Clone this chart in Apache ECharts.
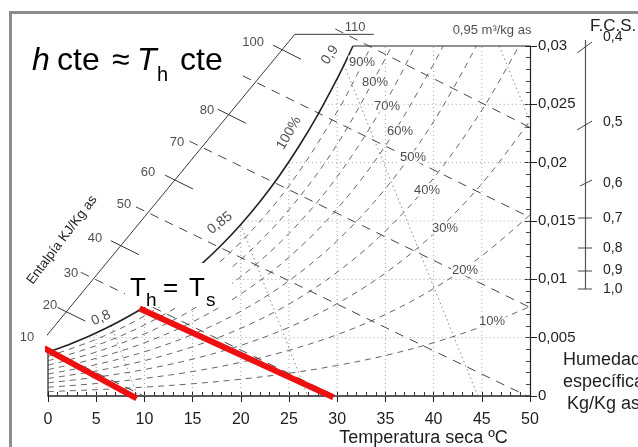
<!DOCTYPE html>
<html><head><meta charset="utf-8">
<script src="https://cdn.jsdelivr.net/npm/echarts@6/dist/echarts.min.js"></script>
<style>html,body{margin:0;padding:0;background:#fff}#c{width:638px;height:447px}</style>
</head><body><div id="c"></div>
<script>
// ---------- data (T in ºC, w in kg/kg as) ----------
const xTickValues = [0,5,10,15,20,25,30,35,40,45,50];
const yTickValues = [0,0.005,0.01,0.015,0.02,0.025,0.03];

const satCurve = [[0,0.00378],[2,0.00436],[4,0.00503],[6,0.00580],[8,0.00666],[10,0.00763],[12,0.00873],[14,0.00997],[16,0.01137],[18,0.01294],[20,0.01470],[22,0.01667],[24,0.01888],[26,0.02136],[28,0.02412],[30,0.02721],[31,0.02888],[31.63,0.03]];

const rh10 = [[0,0.00038],[5,0.00054],[10,0.00076],[15,0.00105],[20,0.00144],[25,0.00195],[30,0.00262],[35,0.00347],[40,0.00457],[45,0.00595],[50,0.00767]];
const rh20 = [[0,0.00075],[5,0.00107],[10,0.00151],[15,0.00210],[20,0.00289],[25,0.00392],[30,0.00526],[35,0.00699],[40,0.00920],[45,0.01201],[50,0.01553]];
const rh30 = [[0,0.00113],[5,0.00161],[10,0.00227],[15,0.00316],[20,0.00434],[25,0.00589],[30,0.00792],[35,0.01054],[40,0.01390],[45,0.01819],[50,0.02360]];
const rh40 = [[0,0.00151],[5,0.00215],[10,0.00303],[15,0.00422],[20,0.00580],[25,0.00788],[30,0.01061],[35,0.01414],[40,0.01868],[45,0.02449],[48.85,0.03]];
const rh50 = [[0,0.00188],[5,0.00269],[10,0.00379],[15,0.00528],[20,0.00726],[25,0.00988],[30,0.01331],[35,0.01777],[40,0.02352],[44.44,0.03]];
const rh60 = [[0,0.00226],[5,0.00323],[10,0.00456],[15,0.00635],[20,0.00874],[25,0.01190],[30,0.01605],[35,0.02145],[40,0.02844],[40.97,0.03]];
const rh70 = [[0,0.00264],[5,0.00377],[10,0.00532],[15,0.00742],[20,0.01022],[25,0.01393],[30,0.01880],[35,0.02517],[38.08,0.03]];
const rh80 = [[0,0.00302],[5,0.00432],[10,0.00609],[15,0.00849],[20,0.01170],[25,0.01597],[30,0.02158],[35,0.02893],[35.62,0.03]];
const rh90 = [[0,0.00340],[5,0.00486],[10,0.00686],[15,0.00957],[20,0.01320],[25,0.01802],[30,0.02438],[32,0.02745],[33.5,0.03]];
const rhCurves = [rh10,rh20,rh30,rh40,rh50,rh60,rh70,rh80,rh90];
const rhLabels = ['10%','20%','30%','40%','50%','60%','70%','80%','90%'];
const rhLabelPos = [[46.06,0.00643],[43.26,0.01080],[41.18,0.01440],[39.32,0.01766],[37.86,0.02049],[36.51,0.02271],[35.17,0.02486],[33.92,0.02691],[32.57,0.02863]];

// enthalpy scale (kJ/kg as)
const enthalpyScale = [[-0.93,0.00438],[25.6,0.0310],[33.8,0.0310]];
const enthalpyLineValues = [10,30,50,70,90,110];
const enthalpyLines = [
  [[-0.93,0.00438],[9.94,0]],
  [[3.4,0.01060],[29.82,0]],
  [[9.13,0.01621],[49.7,0]],
  [[14.68,0.02184],[50,0.00759]],
  [[20.22,0.02744],[50,0.01531]],
  [[29.8,0.03146],[50,0.02302]]
];
const enthalpyTickValues = [20,40,60,80,100];
const enthalpyTicks = [
  [[0.97,0.00760],[3.87,0.00642]],
  [[6.52,0.01331],[9.42,0.01212]],
  [[12.15,0.01893],[15.05,0.01774]],
  [[17.62,0.02458],[20.52,0.02338]],
  [[23.34,0.03007],[26.24,0.02887]]
];
const enthalpyLabels = ['10','20','30','40','50','60','70','80','100','110'];
const enthalpyLabelPos = [[-2.18,0.00506],[0.21,0.0078],[2.39,0.01054],[4.88,0.01354],[7.88,0.01646],[10.37,0.0192],[13.38,0.02177],[16.49,0.02451],[21.27,0.03034],[31.85,0.03163]];

// specific volume lines (m3/kg as)
const volumeLines = [
  [[6.56,0.00603],[9.29,0]],
  [[20.0,0.0147],[26.94,0]],
  [[30.7,0.0284],[44.59,0]],
  [[46.8,0.03],[50,0.02356]]
];
const satLabels = ['0,8','0,85','100%','0,9'];
const satLabelPos = [[5.5,0.00669],[17.84,0.01483],[25.0,0.02254],[29.25,0.02923]];
const volumeTopLabel = '0,95 m³/kg as';
const volumeTopLabelPos = [46.06,0.03137];

// dotted grid under the saturation curve
const gridT = [5,10,15,20,25,30,35,40,45];
const gridTTop = [0.0054,0.00763,0.01065,0.0147,0.02009,0.02721,0.03,0.03,0.03];
const gridW = [0.005,0.01,0.015,0.02,0.025];
const gridWStart = [3.9,14.05,20.3,24.9,28.6];

// red highlighted constant-enthalpy lines
const redLines = [
  [[-0.4,0.0041],[9.2,-0.0002]],
  [[9.5,0.0075],[29.6,-0.0001]]
];

const fcsLabels = ['0,4','0,5','0,6','0,7','0,8','0,9','1,0'];

// ---------- chart ----------
const FONT = '"Liberation Sans", Arial, Helvetica, sans-serif';
const INK = '#1e1e1e';
const series = [];
function poly(data, color, width, type, extra) {
  series.push(Object.assign({
    type: 'line', data: data, symbol: 'none', silent: true, animation: false, clip: false,
    lineStyle: { color: color, width: width, type: type }, z: 3
  }, extra || {}));
}
function labels(texts, positions, fontSize, rotations, extraLabel) {
  series.push({
    type: 'scatter', symbolSize: 0, silent: true, animation: false, clip: false, z: 6,
    data: texts.map((t, i) => ({ value: positions[i], label: { formatter: t, rotate: rotations ? rotations[i] : 0 } })),
    label: Object.assign({ show: true, position: 'inside', fontSize: fontSize, color: INK, fontFamily: FONT,
      align: 'center', verticalAlign: 'middle' }, extraLabel || {})
  });
}

// dotted grid
gridT.forEach((t, i) => poly([[t, 0], [t, gridTTop[i]]], '#a99fa6', 1, [1, 3], { z: 1 }));
gridW.forEach((w, i) => poly([[gridWStart[i], w], [50, w]], '#a99fa6', 1, [1, 3], { z: 1 }));
// specific volume lines
volumeLines.forEach(d => poly(d, '#8e878c', 1, [1.5, 3], { z: 1 }));
// relative humidity curves
rhCurves.forEach(d => poly(d, '#555', 0.9, [6, 5], { smooth: 0.35, clip: true, z: 2 }));
// enthalpy lines
enthalpyLines.forEach(d => poly(d, '#454545', 1, [9, 7], { z: 2 }));
enthalpyTicks.forEach(d => poly(d, '#333', 1, 'solid', { z: 3 }));
poly(enthalpyScale, '#3a3a3a', 1, 'solid');
// saturation curve
poly(satCurve, '#222', 1.6, 'solid', { smooth: 0.35, z: 4 });
// left edge and top edge
poly([[0, 0], [0, 0.00378]], '#222', 1.2, 'solid');
poly([[31.63, 0.03], [50, 0.03]], '#222', 1.2, 'solid');
// red lines (top layer)
redLines.forEach(d => poly(d, '#ee1010', 6, 'solid', { zlevel: 1, z: 10 }));

labels(rhLabels, rhLabelPos, 13, null, { backgroundColor: '#fff', padding: [0, 1] });
labels(enthalpyLabels, enthalpyLabelPos, 13, null);
labels(satLabels, satLabelPos, 14, [25, 38, 60, 55]);
labels([volumeTopLabel], [volumeTopLabelPos], 13, null);

function fmtY(v) { return v === 0 ? '0' : String(+v.toFixed(3)).replace('.', ','); }

const G = [];
function txt(s, x, y, size, opts) {
  G.push(Object.assign({
    type: 'text', x: x, y: y, z: 101, silent: true,
    style: Object.assign({ text: s, fontSize: size, fontFamily: FONT, fill: '#000',
      align: 'left', textAlign: 'left', verticalAlign: 'middle', textVerticalAlign: 'middle' }, (opts && opts.style) || {})
  }, (opts && opts.el) || {}));
}
function seg(x1, y1, x2, y2, color, w) {
  G.push({ type: 'line', z: 101, silent: true, shape: { x1: x1, y1: y1, x2: x2, y2: y2 }, style: { stroke: color || '#444', lineWidth: w || 1 } });
}
// frame
G.push({ type: 'rect', z: 100, silent: true, shape: { x: 10.5, y: 12.5, width: 700, height: 500 }, style: { fill: 'none', stroke: '#8c8c8c', lineWidth: 3 } });
// title  h cte ≈ T_h cte
txt('h', 32, 61.5, 32, { style: { fontStyle: 'italic' } });
txt('cte', 57, 61.5, 32);
txt('≈', 112, 61.5, 32);
txt('T', 137, 61.5, 32, { style: { fontStyle: 'italic' } });
txt('h', 157, 75, 20);
txt('cte', 180, 61.5, 32);
// T_h = T_s box
G.push({ type: 'rect', z: 100, silent: true, shape: { x: 125, y: 263, width: 107, height: 44 }, style: { fill: '#fff' } });
txt('T', 130, 289, 26);
txt('h', 146, 301, 19);
txt('=', 163, 289, 26);
txt('T', 189, 289, 26);
txt('s', 206, 301, 19);
// enthalpy axis title
txt('Entalpía KJ/Kg as', 62, 240, 13.5, { style: { align: 'center', textAlign: 'center', fill: INK }, el: { rotation: 53 * Math.PI / 180 } });
// x axis title
txt('Temperatura seca ºC', 423.5, 438.5, 18, { style: { align: 'center', textAlign: 'center', fill: INK } });
// y axis title
txt('Humedad', 563, 360.5, 18, { style: { fill: INK } });
txt('específica', 563, 382, 18, { style: { fill: INK } });
txt('Kg/Kg as', 567, 404, 18, { style: { fill: INK } });
// F.C.S. scale
txt('F.C.S.', 590, 26.5, 17, { style: { fill: INK } });
seg(585.5, 40, 585.5, 289, '#555', 1.2);
seg(577, 53, 592, 42); seg(577, 130, 592, 121); seg(580, 186, 592, 180);
seg(578, 218, 592, 218); seg(578, 248, 592, 248); seg(578, 271, 592, 271); seg(578, 289, 592, 289);
const fcsY = [37, 122, 183, 218, 248, 270, 289];
fcsLabels.forEach((s, i) => txt(s, 603, fcsY[i], 14, { style: { fill: INK } }));

const option = {
  animation: false,
  backgroundColor: '#fff',
  grid: { left: 48, right: 108, top: 46, bottom: 51 },
  xAxis: [
    { type: 'value', position: 'bottom', min: xTickValues[0], max: xTickValues[xTickValues.length - 1], interval: 5,
      axisLine: { show: true, onZero: false, lineStyle: { color: '#222', width: 1.5 } },
      axisTick: { show: true, length: 6, lineStyle: { color: '#222' } },
      axisLabel: { fontSize: 16, color: INK, fontFamily: FONT, margin: 16 },
      splitLine: { show: false } },
    { type: 'value', position: 'bottom', offset: 0, min: xTickValues[0], max: xTickValues[xTickValues.length - 1], interval: 5,
      axisLine: { show: false, onZero: false }, axisLabel: { show: false },
      axisTick: { show: true, inside: true, length: 4, lineStyle: { color: '#222' } },
      minorTick: { show: true, splitNumber: 5, length: 4, lineStyle: { color: '#333' } },
      splitLine: { show: false } }
  ],
  yAxis: [
    { type: 'value', position: 'right', min: yTickValues[0], max: yTickValues[yTickValues.length - 1], interval: 0.005,
      axisLine: { show: true, onZero: false, lineStyle: { color: '#222', width: 1.2 } },
      axisTick: { show: true, length: 7, lineStyle: { color: '#222' } },
      axisLabel: { fontSize: 15, color: INK, fontFamily: FONT, margin: 8, formatter: fmtY },
      splitLine: { show: false } },
    { type: 'value', position: 'right', offset: 0, min: yTickValues[0], max: yTickValues[yTickValues.length - 1], interval: 0.005,
      axisLine: { show: false, onZero: false }, axisLabel: { show: false },
      axisTick: { show: true, inside: true, length: 5, lineStyle: { color: '#333' } },
      minorTick: { show: true, splitNumber: 5, length: 4, lineStyle: { color: '#444' } },
      splitLine: { show: false } }
  ],
  series: series,
  graphic: { elements: G }
};
const chart = echarts.init(document.getElementById('c'), null, { renderer: 'canvas', width: 638, height: 447 });
chart.setOption(option);
</script>
</body></html>
